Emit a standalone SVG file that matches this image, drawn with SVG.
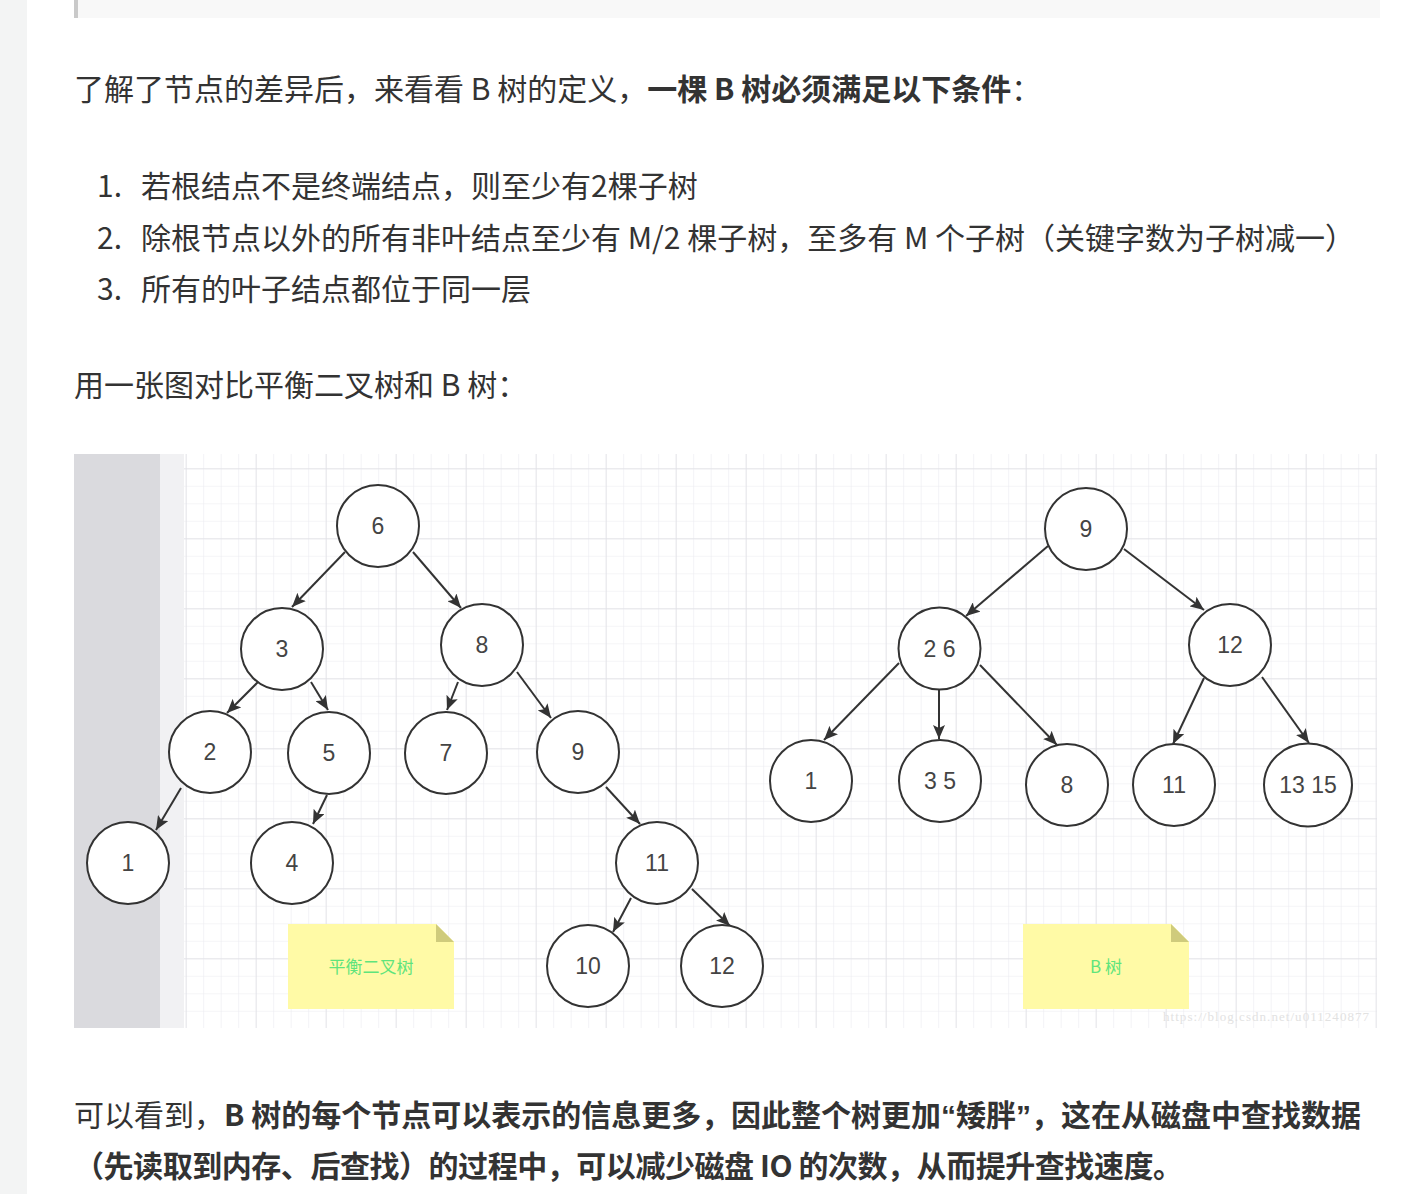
<svg xmlns="http://www.w3.org/2000/svg" width="1422" height="1194" viewBox="0 0 1422 1194">
<style>
.t{font-family:"Noto Sans CJK SC","Noto Sans",sans-serif;font-size:30px;fill:#333}
.b{font-weight:bold}
.q{font-family:"Liberation Sans",Arial,sans-serif}
.node circle,.node ellipse{fill:#fff;stroke:#333;stroke-width:2}
.node text{font-family:"Liberation Sans",Arial,sans-serif;font-size:23px;fill:#444;text-anchor:middle}
.edge line{stroke:#333;stroke-width:2;marker-end:url(#ah)}
.note{fill:#fffaa6}
.fold{fill:#cfcb7c}
.notetext{font-family:"Noto Sans CJK SC",sans-serif;font-size:17px;fill:#5fe47c;text-anchor:middle}
</style>
<defs>
<marker id="ah" markerUnits="userSpaceOnUse" markerWidth="16" markerHeight="12" refX="14" refY="6" orient="auto">
<path d="M0,0 L14,6 L0,12 L3,6 z" fill="#333"/>
</marker>
<pattern id="minor" patternUnits="userSpaceOnUse" x="185.7" y="468.3" width="17.5" height="17.5">
<path d="M0,0 H17.5 M0,0 V17.5" stroke="#ececf0" stroke-width="1.2" fill="none"/>
</pattern>
<pattern id="major" patternUnits="userSpaceOnUse" x="185.7" y="468.3" width="70" height="70">
<path d="M0,0 H70 M0,0 V70" stroke="#e0e0e5" stroke-width="1.4" fill="none"/>
</pattern>
</defs>
<rect width="1422" height="1194" fill="#fff"/>
<rect x="0" y="0" width="27" height="1194" fill="#f3f4f4"/>
<rect x="74" y="0" width="1306" height="18" fill="#f8f8f8"/>
<rect x="74" y="0" width="4" height="18" fill="#c9c9c9"/>

<g id="intro">
<text class="t" x="74" y="100">了解了节点的差异后，来看看 B 树的定义，<tspan class="b">一棵 B 树必须满足以下条件</tspan>：</text>
<text class="t" x="122" y="197" text-anchor="end">1.</text>
<text class="t" x="141" y="197">若根结点不是终端结点，则至少有2棵子树</text>
<text class="t" x="122" y="249" text-anchor="end">2.</text>
<text class="t" x="141" y="249">除根节点以外的所有非叶结点至少有 M/2 棵子树，至多有 M 个子树（关键字数为子树减一）</text>
<text class="t" x="122" y="300" text-anchor="end">3.</text>
<text class="t" x="141" y="300">所有的叶子结点都位于同一层</text>
<text class="t" x="74" y="396">用一张图对比平衡二叉树和 B 树：</text>
</g>

<g id="canvas">
<rect x="74" y="454" width="1303" height="574" fill="#fff"/>
<rect x="184" y="454" width="1193" height="574" fill="url(#minor)"/>
<rect x="184" y="454" width="1193" height="574" fill="url(#major)"/>
<rect x="74" y="454" width="86" height="574" fill="#dadade"/>
<rect x="160" y="454" width="24" height="574" fill="#f1f1f3"/>
</g>

<g id="connectors" class="edge">
<line x1="345" y1="552" x2="292" y2="607"/>
<line x1="413" y1="552" x2="461" y2="608"/>
<line x1="258" y1="682" x2="227" y2="713"/>
<line x1="311" y1="682" x2="328" y2="710"/>
<line x1="458" y1="682" x2="447" y2="710"/>
<line x1="517" y1="672" x2="551" y2="718"/>
<line x1="181" y1="788" x2="156" y2="830"/>
<line x1="327" y1="795" x2="313" y2="824"/>
<line x1="606" y1="787" x2="640" y2="824"/>
<line x1="631" y1="898" x2="613" y2="932"/>
<line x1="692" y1="889" x2="730" y2="926"/>
<line x1="1048" y1="546" x2="966" y2="616"/>
<line x1="1124" y1="549" x2="1204" y2="610"/>
<line x1="899" y1="663" x2="824" y2="740"/>
<line x1="939" y1="690" x2="939" y2="739"/>
<line x1="980" y1="665" x2="1057" y2="745"/>
<line x1="1204" y1="678" x2="1173" y2="744"/>
<line x1="1262" y1="677" x2="1309" y2="743"/>
</g>

<g id="avl-6" class="node"><circle cx="378" cy="526" r="41"/><text x="378" y="534">6</text></g>
<g id="avl-3" class="node"><circle cx="282" cy="649" r="41"/><text x="282" y="657">3</text></g>
<g id="avl-8" class="node"><circle cx="482" cy="645" r="41"/><text x="482" y="653">8</text></g>
<g id="avl-2" class="node"><circle cx="210" cy="752" r="41"/><text x="210" y="760">2</text></g>
<g id="avl-5" class="node"><circle cx="329" cy="753" r="41"/><text x="329" y="761">5</text></g>
<g id="avl-7" class="node"><circle cx="446" cy="753" r="41"/><text x="446" y="761">7</text></g>
<g id="avl-9" class="node"><circle cx="578" cy="752" r="41"/><text x="578" y="760">9</text></g>
<g id="avl-1" class="node"><circle cx="128" cy="863" r="41"/><text x="128" y="871">1</text></g>
<g id="avl-4" class="node"><circle cx="292" cy="863" r="41"/><text x="292" y="871">4</text></g>
<g id="avl-11" class="node"><circle cx="657" cy="863" r="41"/><text x="657" y="871">11</text></g>
<g id="avl-10" class="node"><circle cx="588" cy="966" r="41"/><text x="588" y="974">10</text></g>
<g id="avl-12" class="node"><circle cx="722" cy="966" r="41"/><text x="722" y="974">12</text></g>

<g id="bt-9" class="node"><circle cx="1086" cy="529" r="41"/><text x="1086" y="537">9</text></g>
<g id="bt-26" class="node"><circle cx="939.5" cy="648.5" r="41"/><text x="939.5" y="656.5">2 6</text></g>
<g id="bt-12" class="node"><circle cx="1230" cy="645" r="41"/><text x="1230" y="653">12</text></g>
<g id="bt-1" class="node"><circle cx="811" cy="781" r="41"/><text x="811" y="789">1</text></g>
<g id="bt-35" class="node"><circle cx="940" cy="781" r="41"/><text x="940" y="789">3 5</text></g>
<g id="bt-8" class="node"><circle cx="1067" cy="785" r="41"/><text x="1067" y="793">8</text></g>
<g id="bt-11" class="node"><circle cx="1174" cy="785" r="41"/><text x="1174" y="793">11</text></g>
<g id="bt-1315" class="node"><ellipse cx="1308" cy="785" rx="44" ry="41.5"/><text x="1308" y="793">13 15</text></g>

<g id="note-avl">
<polygon class="note" points="288,924 436,924 454,942 454,1009 288,1009"/>
<polygon class="fold" points="436,924 436,942 454,942"/>
<text class="notetext" x="371" y="973">平衡二叉树</text>
</g>
<g id="note-bt">
<polygon class="note" points="1023,924 1171,924 1189,942 1189,1009 1023,1009"/>
<polygon class="fold" points="1171,924 1171,942 1189,942"/>
<text class="notetext" x="1106" y="973">B 树</text>
</g>
<text x="1163" y="1021" font-family="Liberation Serif,serif" font-size="13" fill="#e2e2e2" textLength="206">https://blog.csdn.net/u011240877</text>

<g id="outro">
<text class="t" x="74" y="1126" textLength="1287" lengthAdjust="spacing">可以看到，<tspan class="b">B 树的每个节点可以表示的信息更多，因此整个树更加<tspan class="q">“</tspan>矮胖<tspan class="q">”</tspan>，这在从磁盘中查找数据</tspan></text>
<text class="t b" x="74" y="1177" textLength="1109" lengthAdjust="spacing">（先读取到内存、后查找）的过程中，可以减少磁盘 IO 的次数，从而提升查找速度。</text>
</g>
</svg>
